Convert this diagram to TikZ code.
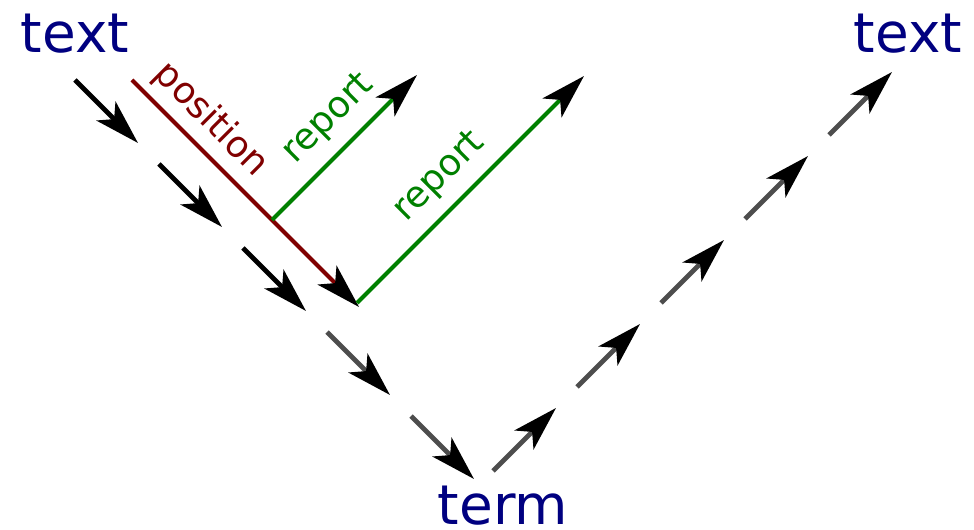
\documentclass[tikz,border=0pt]{standalone}
\usepackage{fontspec}
\setmainfont{DejaVu Sans}
\usetikzlibrary{arrows.meta}
\definecolor{navytext}{RGB}{0,0,128}
\definecolor{posred}{RGB}{128,0,0}
\definecolor{repgreen}{RGB}{0,128,0}
\definecolor{stepgray}{RGB}{77,77,77}
\tikzset{
	hd/.style={-{Stealth[length=32pt, width=19pt, inset=8pt, color=black]}},
	word/.style={navytext, anchor=base, inner sep=0pt, font=\fontsize{39}{39}\selectfont},
	lbl/.style={inner sep=0pt, font=\fontsize{26}{26}\selectfont},
	blackstep/.style={hd, black, line width=3.4pt},
	graystep/.style={hd, stepgray, line width=3.4pt},
	posline/.style={hd, posred, line width=2.9pt},
	repline/.style={hd, repgreen, line width=2.9pt}
}
\begin{document}
\begin{tikzpicture}[x=0.025cm, y=-0.025cm]
				\useasboundingbox (0,0) rectangle (974,530);
				% 文字
				\node[word] (src) at (75,53) {text};
				\node[word] (dst) at (908,53) {text};
				\node[word] (trm) at (503,525) {term};
				
				% 向下的步子
				\coordinate (d1) at (75,80);   \coordinate (d1e) at (138,143); \draw[blackstep] (d1) -- (d1e);
				\coordinate (d2) at (159,164); \coordinate (d2e) at (222,227); \draw[blackstep] (d2) -- (d2e);
				\coordinate (d3) at (243,248); \coordinate (d3e) at (306,311); \draw[blackstep] (d3) -- (d3e);
				\coordinate (d4) at (327,332); \coordinate (d4e) at (390,395); \draw[graystep] (d4) -- (d4e);
				\coordinate (d5) at (411,416); \coordinate (d5e) at (474,479); \draw[graystep] (d5) -- (d5e);
				
				% 向上的步子
				\coordinate (u1) at (493,471); \coordinate (u1e) at (556,408); \draw[graystep] (u1) -- (u1e);
				\coordinate (u2) at (577,387); \coordinate (u2e) at (640,324); \draw[graystep] (u2) -- (u2e);
				\coordinate (u3) at (661,303); \coordinate (u3e) at (724,240); \draw[graystep] (u3) -- (u3e);
				\coordinate (u4) at (745,219); \coordinate (u4e) at (808,156); \draw[graystep] (u4) -- (u4e);
				\coordinate (u5) at (829,135); \coordinate (u5e) at (892,72);  \draw[graystep] (u5) -- (u5e);
				
				% position 与 report
				\coordinate (p0) at (132,80);
				\coordinate (p1) at (359,307);
				\draw[posline] (p0) -- (p1);
				\node[lbl, posred, rotate=-45] (poslbl) at (211,120) {position};
				
				\coordinate (r1) at (272,220);
				\coordinate (r1e) at (417,75);
				\draw[repline] (r1) -- (r1e);
				\node[lbl, repgreen, rotate=45] (replbla) at (329,119) {report};
				
				\coordinate (r2) at (357,303);
				\coordinate (r2e) at (584,76);
				\draw[repline] (r2) -- (r2e);
				\node[lbl, repgreen, rotate=45] (replblb) at (440,177) {report};
\end{tikzpicture}
\end{document}
